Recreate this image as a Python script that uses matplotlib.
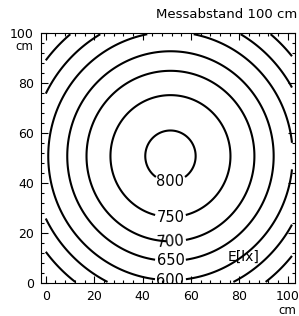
import numpy as np
import matplotlib
matplotlib.use("Agg")
import matplotlib.pyplot as plt
from matplotlib.ticker import MultipleLocator

# Illuminance levels (lx) and the radius (cm) at which each isoline lies,
# read from the picture (centre of the light spot and slight x-stretch too)
levels_lux = [500, 550, 600, 650, 700, 750, 800]
radius_cm = [63.3, 56.3, 49.5, 41.8, 34.0, 24.3, 10.2]
centre_x = 51.5
centre_y = 50.8
x_stretch = 1.02
x_ticks = [0, 20, 40, 60, 80, 100]
y_ticks = [0, 20, 40, 60, 80, 100]
title_text = "Messabstand 100 cm"
unit_text = "E[lx]"

fig = plt.figure(figsize=(2.99, 3.16), dpi=100)
ax = fig.add_axes([0.137, 0.103, 0.850, 0.7935])

gx = np.linspace(0.0, 101.7, 500)
gy = np.linspace(0.6, 99.4, 500)
X, Y = np.meshgrid(gx, gy)
D = np.hypot((X - centre_x) / x_stretch, Y - centre_y)

order = np.argsort(radius_cm)
r_sorted = [radius_cm[i] for i in order]
lux_sorted = [levels_lux[i] for i in order]
cs = ax.contour(X, Y, D, levels=r_sorted, colors="black", linewidths=1.5)

fmt = {r: str(l) for r, l in zip(r_sorted, lux_sorted)}
label_levels = [r for r, l in zip(r_sorted, lux_sorted) if l >= 600]
positions = [(centre_x, centre_y - r) for r in label_levels]
ax.clabel(cs, label_levels, fmt=fmt, inline=True, inline_spacing=2,
          fontsize=10.5, manual=positions)

ax.text(81.5, 10.6, unit_text, fontsize=10, ha="center", va="center")

ax.set_xlim(-2, 103)
ax.set_ylim(0, 100)
ax.set_xticks(x_ticks)
ax.set_yticks(y_ticks)
ax.xaxis.set_minor_locator(MultipleLocator(4))
ax.yaxis.set_minor_locator(MultipleLocator(4))
ax.tick_params(which="both", direction="in", top=True, right=True, width=0.8)
ax.tick_params(which="major", length=5, labelsize=9)
ax.tick_params(axis="x", which="major", pad=4.5)
ax.tick_params(axis="y", which="major", pad=5)
ax.tick_params(which="minor", length=2.5)
for s in ax.spines.values():
    s.set_linewidth(0.8)

ax.text(1.003, -0.083, "cm", transform=ax.transAxes, fontsize=8.5, ha="right", va="top")
ax.text(-0.031, 0.972, "cm", transform=ax.transAxes, fontsize=8.5, ha="right", va="top")
fig.text(0.993, 0.935, title_text, fontsize=9.5, ha="right", va="bottom")

fig.savefig("out.png", dpi=100)
